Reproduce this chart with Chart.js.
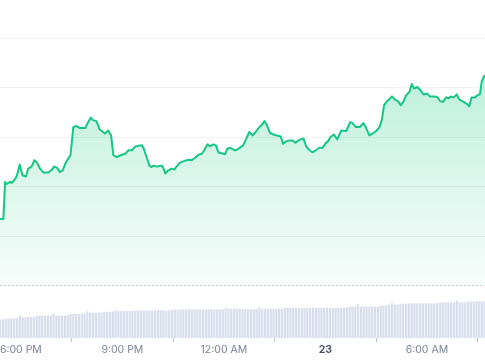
<!DOCTYPE html>
<html>
<head>
<meta charset="utf-8">
<script src="https://cdn.jsdelivr.net/npm/chart.js@4.4.1/dist/chart.umd.min.js"></script>
<style>
  html, body { margin: 0; padding: 0; background: #ffffff; }
  #wrap { width: 485px; height: 360px; position: relative; }
</style>
</head>
<body>
<div id="wrap"><canvas id="c" width="485" height="360"></canvas></div>
<script>
// Price series: time in minutes since 00:00 on the 22nd, price in chart units
const priceTimes = [1043,1049,1052,1055,1061,1064,1070,1073,1078,1083,1089,1093,1099,1104,1108,1114,1120,1129,1135,1139,1144,1149,1154,1160,1168,1173,1179,1185,1194,1198,1204,1208,1214,1220,1229,1235,1240,1244,1250,1257,1265,1271,1277,1282,1288,1295,1298,1303,1308,1312,1315,1321,1330,1333,1336,1341,1347,1352,1356,1362,1369,1377,1383,1389,1395,1401,1405,1411,1415,1421,1426,1430,1436,1442,1446,1451,1460,1466,1474,1480,1485,1491,1497,1503,1507,1512,1516,1522,1528,1534,1541,1545,1550,1557,1562,1567,1572,1581,1586,1591,1597,1603,1609,1615,1621,1625,1629,1635,1641,1648,1657,1664,1668,1674,1681,1687,1692,1698,1704,1710,1716,1720,1724,1729,1733,1738,1743,1749,1754,1758,1763,1769,1773,1777,1783,1788,1794,1800,1805,1813,1818,1824,1829,1834,1838,1842,1847,1853,1857,1865,1872,1875,1879,1885,1889,1894,1897,1901,1903];
const priceValues = [113.5,113.5,121.0,120.6,121.0,120.8,121.6,122.3,124.5,122.3,122.1,123.7,124.1,125.4,125.0,123.7,122.9,122.9,123.5,124.1,123.9,123.0,123.3,125.0,126.4,132.1,132.3,131.9,131.9,132.8,134.0,133.5,133.3,131.6,130.8,131.4,130.4,126.4,126.0,126.4,126.7,127.4,127.4,128.1,128.3,128.4,127.7,126.0,124.3,124.0,124.3,124.1,124.3,123.7,122.7,123.3,123.7,123.5,124.1,124.9,125.2,125.5,125.4,125.9,126.5,126.7,127.4,128.6,128.2,128.6,128.4,127.0,126.8,126.6,127.7,127.9,127.4,127.7,128.4,129.8,131.1,130.4,131.2,132.1,132.5,133.3,132.5,130.9,130.6,130.4,130.2,128.7,129.2,129.4,129.4,128.9,129.4,129.8,128.2,127.5,127.0,127.4,127.9,127.9,128.9,129.3,130.1,130.6,129.6,131.4,131.3,133.1,132.9,132.1,132.1,132.9,132.0,130.4,130.8,131.3,132.1,133.5,136.5,137.3,137.7,138.3,137.7,137.3,136.5,137.2,138.5,139.2,140.8,139.9,140.2,139.6,138.7,138.9,138.3,138.3,138.2,137.3,137.2,138.1,137.9,138.3,138.1,138.7,137.7,137.2,136.7,136.3,138.1,138.1,138.5,138.7,141.2,142.3,142.6];

// Volume bars every 5 minutes from 17:23
const volumeStart = 1043;
const volumeStep = 5;
const volumeValues = [
  18,18,18.5,19,19,19.3,19.3,
  22,
  20.3,20.3,20.5,20.5,20.7,
  21.5,
  22,22,22,22,22,
  24,
  22,22,22,22,22.3,
  23.5,23.7,23.7,23.7,24,24,
  26.3,
  24.7,24.7,24.7,25,25,
  25.7,25.7,25.7,26,
  26.7,26.7,26.7,26.7,26.7,26.7,26.7,26.7,
  27,27,27,27,27,27,27,
  27.7,
  27,27,27,27,
  27.5,
  28,28,28,28,28,28,28,28,28,28,28,28,28,28,28,28,28,28,
  29.3,
  28.7,28.7,28.7,28.7,
  28.5,
  28.3,28.3,28.3,28.3,28.3,
  28.5,
  30,
  28.7,28.7,28.7,28.7,28.7,28.7,28.7,28.7,
  29.5,
  29.7,29.7,29.7,29.7,29.7,29.7,29.7,29.7,29.7,29.7,29.7,29.7,29.7,29.7,29.7,29.7,29.7,29.7,29.7,29.7,29.7,
  30,
  30.7,30.7,
  31,
  33,
  31,31,31,31,31,31,31,
  31.5,
  32,32,
  32.5,
  34.3,
  33,33,
  33.5,
  34,34,34,34,34,34,34,34,34,34,34,34,
  34.5,
  35,35,35,35,35,35,
  37,
  35,35,35,
  36,36,36,36,36,36,36
];

// X-axis ticks
const tickValues = [1080, 1260, 1440, 1620, 1800];
const tickLabels = ['6:00 PM', '9:00 PM', '12:00 AM', '23', '6:00 AM'];
// Price grid lines (lowest one dotted)
const gridValues = [100, 110, 120, 130, 140, 150];

const linePoints = priceTimes.map((t, i) => ({ x: t, y: priceValues[i] }));
const barPoints = volumeValues.map((v, i) => ({ x: volumeStart + volumeStep * i, y: v }));

const green = '#16c784';
const isBoldTick = (ctx) => !!(ctx && ctx.tick && tickLabels[tickValues.indexOf(ctx.tick.value)] === '23');
const isBaseTick = (ctx) => !!(ctx && ctx.tick && ctx.tick.value === 100);

new Chart(document.getElementById('c'), {
  data: {
    datasets: [
      {
        type: 'line',
        data: linePoints,
        yAxisID: 'y',
        borderColor: green,
        borderWidth: 2,
        borderJoinStyle: 'round',
        pointRadius: 0,
        tension: 0,
        fill: { value: 100 },
        backgroundColor: (ctx) => {
          const chart = ctx.chart;
          const area = chart.chartArea;
          if (!area || !chart.scales.y) return 'rgba(22,199,132,0.15)';
          const ys = chart.scales.y;
          const top = ys.getPixelForValue(143);
          const bottom = ys.getPixelForValue(100);
          const g = chart.ctx.createLinearGradient(0, top, 0, bottom);
          g.addColorStop(0, 'rgba(22,199,132,0.28)');
          g.addColorStop(1, 'rgba(22,199,132,0.03)');
          return g;
        },
        order: 1
      },
      {
        type: 'bar',
        data: barPoints,
        yAxisID: 'yv',
        backgroundColor: '#d8deeb',
        borderWidth: 0,
        barThickness: 1.6,
        order: 2
      }
    ]
  },
  options: {
    responsive: false,
    animation: false,
    events: [],
    layout: { padding: { left: 0, right: 0, top: 0, bottom: 1.5 } },
    plugins: { legend: { display: false }, tooltip: { enabled: false } },
    scales: {
      x: {
        type: 'linear',
        min: 1043,
        max: 1903,
        offset: false,
        afterBuildTicks: (scale) => { scale.ticks = tickValues.map(v => ({ value: v })); },
        afterFit: (scale) => { scale.paddingLeft = 0; scale.paddingRight = 0; },
        ticks: {
          autoSkip: false,
          maxRotation: 0,
          padding: 2,
          color: (ctx) => isBoldTick(ctx) ? '#4a5568' : '#7a8499',
          font: (ctx) => ({
            family: 'Inter, "Noto Sans", sans-serif',
            size: 10.5,
            weight: isBoldTick(ctx) ? 'bold' : 'normal'
          }),
          callback: (v) => tickLabels[tickValues.indexOf(v)]
        },
        grid: {
          drawOnChartArea: false,
          drawTicks: true,
          tickLength: 4,
          tickColor: '#b9c0ce',
          tickWidth: 1
        },
        border: { display: false }
      },
      y: {
        type: 'linear',
        position: 'left',
        min: 89.45,
        max: 157.8,
        afterBuildTicks: (scale) => { scale.ticks = gridValues.map(v => ({ value: v })); },
        ticks: { display: false },
        grid: {
          drawTicks: false,
          lineWidth: 1,
          color: (ctx) => isBaseTick(ctx) ? '#c9ced8' : '#eff1f4'
        },
        border: {
          display: false,
          dash: (ctx) => isBaseTick(ctx) ? [2, 2] : []
        }
      },
      yv: {
        type: 'linear',
        display: false,
        min: 0,
        max: 337
      }
    }
  }
});
</script>
</body>
</html>
